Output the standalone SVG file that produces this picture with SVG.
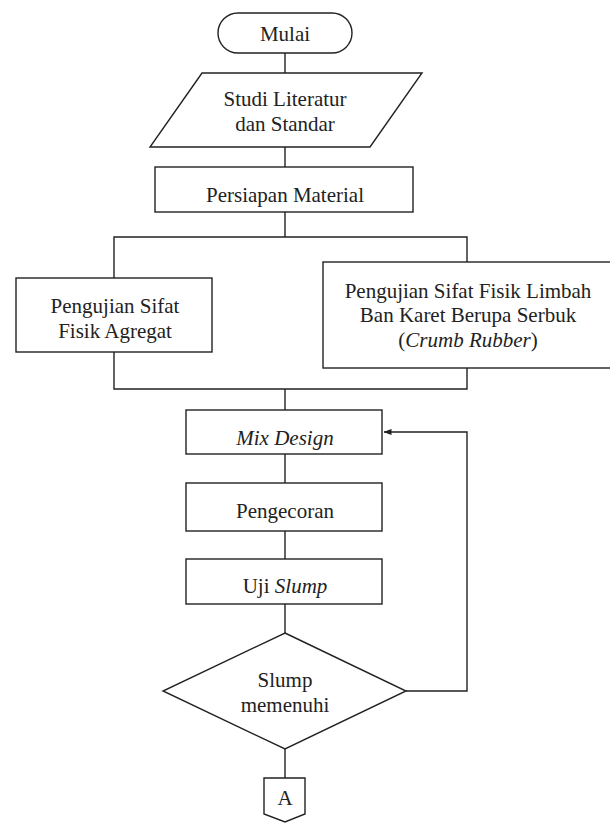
<svg xmlns="http://www.w3.org/2000/svg" width="610" height="823" viewBox="0 0 610 823">
<defs>
<style>
.s{fill:#fff;stroke:#222;stroke-width:1.4}
.c{fill:none;stroke:#222;stroke-width:1.4}
text{font-family:"Liberation Serif","Times New Roman",serif;font-size:21px;fill:#222;text-anchor:middle}
.i{font-style:italic}
</style>
<marker id="ah" markerWidth="8" markerHeight="6" refX="7.5" refY="3" orient="auto" markerUnits="userSpaceOnUse">
<path d="M0,0 L8,3 L0,6 Z" fill="#222"/>
</marker>
</defs>
<rect width="610" height="823" fill="#fff"/>
<g id="connectors">
<line class="c" x1="285" y1="53" x2="285" y2="73"/>
<line class="c" x1="285" y1="147" x2="285" y2="167"/>
<line class="c" x1="285" y1="212" x2="285" y2="237"/>
<polyline class="c" points="114,278 114,237 467,237 467,262"/>
<polyline class="c" points="114,352 114,389 467,389 467,368"/>
<line class="c" x1="285" y1="389" x2="285" y2="410"/>
<line class="c" x1="285" y1="454" x2="285" y2="483"/>
<line class="c" x1="285" y1="531" x2="285" y2="559"/>
<line class="c" x1="285" y1="604" x2="285" y2="633"/>
<polyline class="c" points="406,691 467,691 467,432 384,432" marker-end="url(#ah)"/>
<line class="c" x1="285" y1="749" x2="285" y2="778"/>
</g>
<g id="mulai">
<rect class="s" x="218" y="13" width="134" height="40" rx="20" ry="20"/>
<text x="285" y="41">Mulai</text>
</g>
<g id="studi">
<polygon class="s" points="202,73 422,73 370,147 150,147"/>
<text x="285" y="106">Studi Literatur</text>
<text x="285" y="131">dan Standar</text>
</g>
<g id="persiapan">
<rect class="s" x="155" y="167" width="258" height="45"/>
<text x="285" y="202">Persiapan Material</text>
</g>
<g id="agregat">
<rect class="s" x="16" y="278" width="196" height="74"/>
<text x="115" y="313">Pengujian Sifat</text>
<text x="115" y="338">Fisik Agregat</text>
</g>
<g id="limbah">
<rect class="s" x="323" y="262" width="290" height="106"/>
<text x="468" y="298">Pengujian Sifat Fisik Limbah</text>
<text x="468" y="322">Ban Karet Berupa Serbuk</text>
<text x="468" y="347">(<tspan class="i">Crumb Rubber</tspan>)</text>
</g>
<g id="mixdesign">
<rect class="s" x="186" y="410" width="196" height="44"/>
<text x="285" y="445" class="i">Mix Design</text>
</g>
<g id="pengecoran">
<rect class="s" x="186" y="483" width="196" height="48"/>
<text x="285" y="518">Pengecoran</text>
</g>
<g id="ujislump">
<rect class="s" x="186" y="559" width="196" height="45"/>
<text x="285" y="593">Uji <tspan class="i">Slump</tspan></text>
</g>
<g id="keputusan">
<polygon class="s" points="285,633 406,691 285,749 163,691"/>
<text x="285" y="687">Slump</text>
<text x="285" y="712">memenuhi</text>
</g>
<g id="konektorA">
<polygon class="s" points="264,778 305,778 305,814 285,822 264,814"/>
<text x="285" y="805">A</text>
</g>
</svg>
